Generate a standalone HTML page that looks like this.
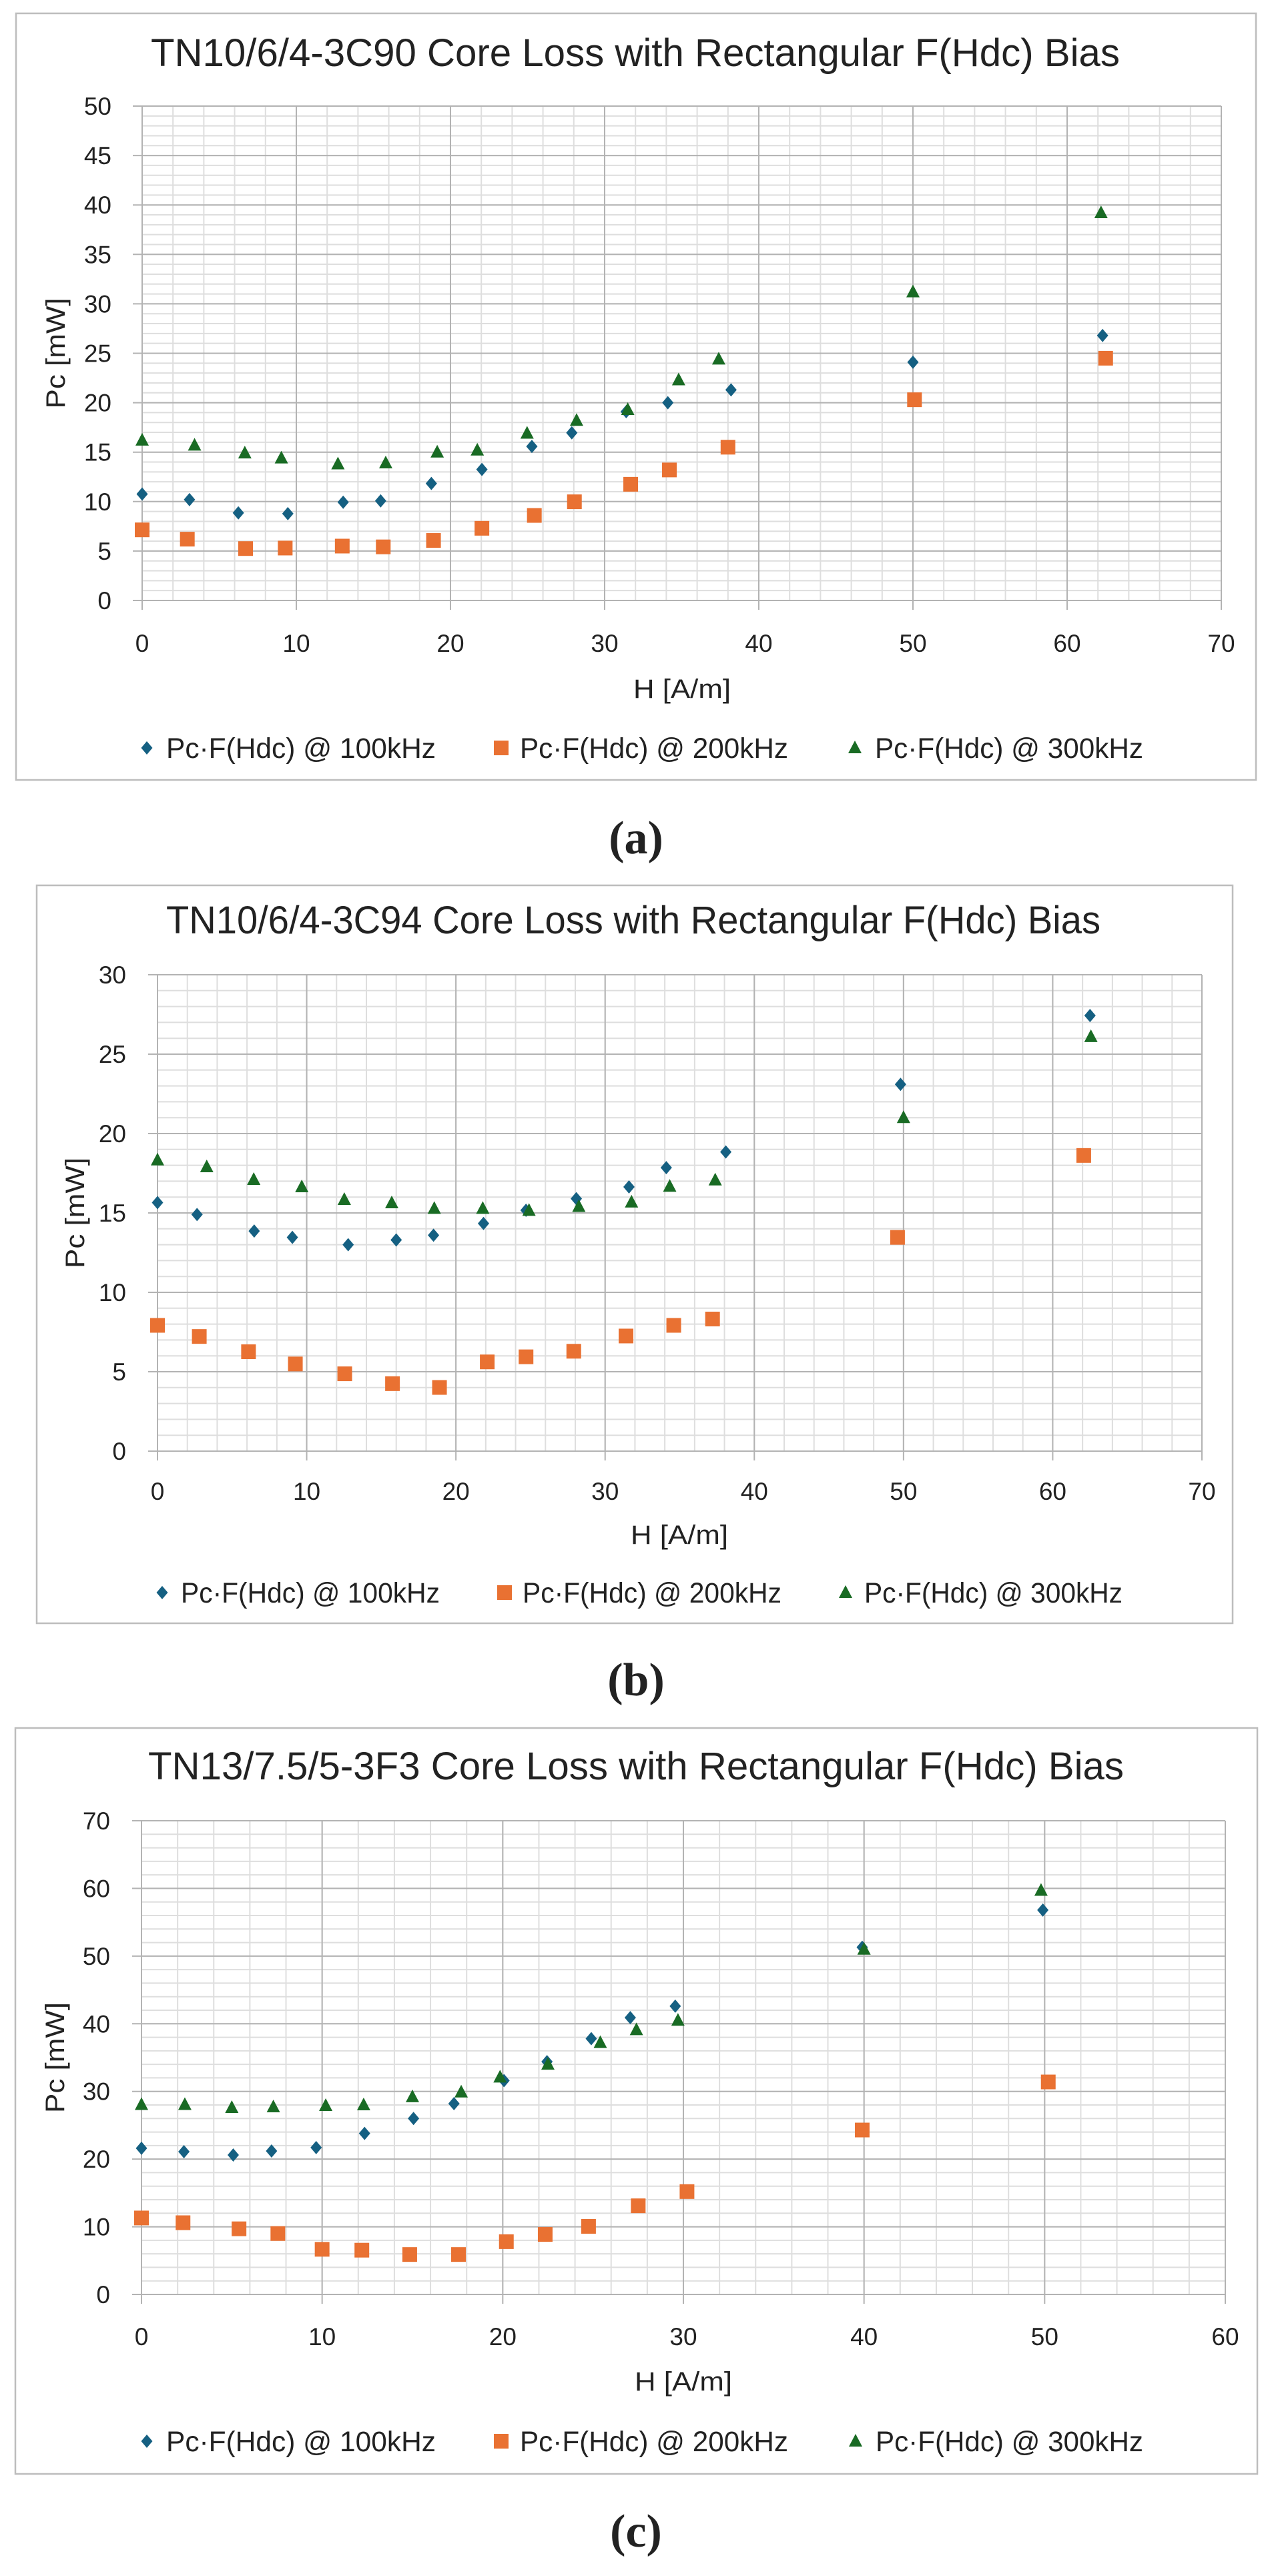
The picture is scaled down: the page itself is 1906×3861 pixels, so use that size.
<!DOCTYPE html>
<html><head><meta charset="utf-8">
<style>
html,body{margin:0;padding:0;background:#fff;}
svg{display:block;}
text{font-family:"Liberation Sans",sans-serif;fill:#222;}
</style></head>
<body>
<svg id="root" width="1906" height="3861" viewBox="0 0 1906 3861" xmlns="http://www.w3.org/2000/svg">
</svg>
<script>
// ---- Chart (a) TN10/6/4-3C90 ----
const aX100 = [0,3.07,6.24,9.45,13.04,15.47,18.76,22.04,25.28,27.87,31.4,34.1,38.2,50,62.3];
const aY100 = [10.76,10.2,8.86,8.78,9.94,10.07,11.83,13.25,15.58,16.95,19.1,20.0,21.3,24.1,26.8];
const aX200 = [0,2.93,6.71,9.28,12.98,15.64,18.9,22.04,25.44,28.04,31.69,34.2,38.0,50.1,62.5];
const aY200 = [7.14,6.2,5.25,5.3,5.5,5.42,6.07,7.3,8.6,9.98,11.75,13.2,15.5,20.3,24.5];
const aX300 = [0,3.4,6.66,9.03,12.7,15.8,19.14,21.74,24.97,28.18,31.5,34.8,37.4,50,62.2];
const aY300 = [16.2,15.7,14.9,14.4,13.8,13.9,15.0,15.2,16.9,18.2,19.3,22.3,24.4,31.2,39.2];
const aXTicks = [0,10,20,30,40,50,60,70];
const aYTicks = [0,5,10,15,20,25,30,35,40,45,50];
// ---- Chart (b) TN10/6/4-3C94 ----
const bX100 = [0,2.65,6.48,9.04,12.78,16.0,18.5,21.85,24.7,28.07,31.6,34.1,38.09,49.8,62.5];
const bY100 = [15.65,14.9,13.86,13.46,13.0,13.3,13.6,14.34,15.17,15.9,16.64,17.85,18.84,23.1,27.43];
const bX200 = [0,2.8,6.1,9.24,12.55,15.75,18.9,22.1,24.7,27.9,31.4,34.6,37.2,49.6,62.08];
const bY200 = [7.92,7.22,6.26,5.49,4.87,4.25,4.01,5.62,5.94,6.29,7.25,7.92,8.32,13.46,18.62];
const bX300 = [0,3.3,6.45,9.67,12.52,15.7,18.55,21.8,24.9,28.24,31.77,34.33,37.38,50,62.56];
const bY300 = [18.33,17.9,17.1,16.64,15.84,15.63,15.28,15.28,15.15,15.4,15.68,16.67,17.07,21.0,26.1];
const bXTicks = [0,10,20,30,40,50,60,70];
const bYTicks = [0,5,10,15,20,25,30];
// ---- Chart (c) TN13/7.5/5-3F3 ----
const cX100 = [0,2.35,5.08,7.2,9.67,12.35,15.06,17.3,20.07,22.45,24.9,27.06,29.55,39.9,49.9];
const cY100 = [21.6,21.1,20.6,21.2,21.7,23.8,26.0,28.2,31.6,34.4,37.8,40.9,42.6,51.3,56.8];
const cX200 = [0,2.3,5.4,7.55,10.0,12.2,14.85,17.55,20.2,22.35,24.75,27.5,30.2,39.9,50.2];
const cY200 = [11.3,10.6,9.7,9.0,6.67,6.54,5.9,5.9,7.8,8.87,10.06,13.1,15.2,24.3,31.4];
const cX300 = [0,2.4,5.0,7.3,10.2,12.3,15.0,17.7,19.85,22.5,25.4,27.4,29.7,40.0,49.8];
const cY300 = [28.05,28.05,27.6,27.7,27.9,28.0,29.2,29.9,32.1,34.0,37.2,39.1,40.5,51.0,59.7];
const cXTicks = [0,10,20,30,40,50,60];
const cYTicks = [0,10,20,30,40,50,60,70];

const NS = "http://www.w3.org/2000/svg";
const root = document.getElementById('root');
function mk(tag, attrs, parent){
  const e = document.createElementNS(NS, tag);
  for (const k in attrs) e.setAttribute(k, attrs[k]);
  (parent||root).appendChild(e);
  return e;
}
const C100 = '#156082', C200 = '#E97132', C300 = '#196B24';

function diamond(g, x, y){
  const e = mk('polygon', {points:`${x},${y-10} ${x+8.5},${y} ${x},${y+10} ${x-8.5},${y}`, fill:C100}, g);
  return e;
}
function square(g, x, y){
  return mk('rect', {x:x-11, y:y-11, width:22, height:22, fill:C200}, g);
}
function triangle(g, x, y){
  return mk('polygon', {points:`${x},${y-11} ${x+10},${y+8} ${x-10},${y+8}`, fill:C300}, g);
}

function chart(cfg){
  const g = mk('g', {});
  
  
  const f = mk('rect', {x:cfg.fx, y:cfg.fy, width:cfg.fw, height:cfg.fh, fill:'#fff', stroke:'#bdbdbd', 'stroke-width':2.5}, g);
  
  
  const xMax = cfg.xTicks[cfg.xTicks.length-1], yMax = cfg.yTicks[cfg.yTicks.length-1];
  const sx = v => cfg.x0 + (cfg.x1 - cfg.x0) * v / xMax;
  const sy = v => cfg.y0 - (cfg.y0 - cfg.y1) * v / yMax;
  // minor grid
  for (let v = 0; v <= yMax + 1e-9; v += cfg.yMinor){
    const l = mk('line', {x1:cfg.x0, x2:cfg.x1, y1:sy(v), y2:sy(v), stroke:'#dedede', 'stroke-width':2}, g);
    
    
  }
  for (let v = 0; v <= xMax + 1e-9; v += cfg.xMinor){
    const l = mk('line', {x1:sx(v), x2:sx(v), y1:cfg.y1, y2:cfg.y0, stroke:'#dedede', 'stroke-width':2}, g);
    
    
  }
  // major grid + tick labels
  cfg.yTicks.forEach(v => {
    const l = mk('line', {x1:cfg.x0-14, x2:cfg.x1, y1:sy(v), y2:sy(v), stroke:'#b3b3b3', 'stroke-width':2}, g);
    
    
    const t = mk('text', {x:cfg.yLabRight, y:sy(v)+13, 'text-anchor':'end', 'font-size':37}, g);
    t.textContent = v;
    
    
  });
  cfg.xTicks.forEach(v => {
    const l = mk('line', {x1:sx(v), x2:sx(v), y1:cfg.y1, y2:cfg.y0+14, stroke:'#b3b3b3', 'stroke-width':2}, g);
    
    
    const t = mk('text', {x:sx(v), y:cfg.xLabY+13, 'text-anchor':'middle', 'font-size':37}, g);
    t.textContent = v;
    
    
  });
  // title
  const tt = mk('text', {x:cfg.tx0, y:cfg.ty, 'font-size':58, textLength:cfg.tx1-cfg.tx0, lengthAdjust:'spacingAndGlyphs'}, g);
  tt.textContent = cfg.title;
  
  
  // axis titles
  const xt = mk('text', {x:cfg.xtX, y:cfg.xtY+14, 'text-anchor':'middle', 'font-size':40, textLength:146, lengthAdjust:'spacingAndGlyphs'}, g);
  xt.textContent = 'H [A/m]';
  
  
  const ym = (cfg.y0 + cfg.y1) / 2;
  const yt = mk('text', {x:0, y:0, 'text-anchor':'middle', 'font-size':40, textLength:166, lengthAdjust:'spacingAndGlyphs', transform:`translate(${cfg.ytX+14},${ym}) rotate(-90)`}, g);
  yt.textContent = 'Pc [mW]';
  
  
  // series
  const series = [
    {xs:cfg.x100, ys:cfg.y100, fn:diamond, name:'series-100khz-point'},
    {xs:cfg.x200, ys:cfg.y200, fn:square, name:'series-200khz-point'},
    {xs:cfg.x300, ys:cfg.y300, fn:triangle, name:'series-300khz-point'}
  ];
  series.forEach(s => {
    s.xs.forEach((xv, i) => {
      const m = s.fn(g, sx(xv), sy(s.ys[i]));
      
      
    });
  });
  // legend
  const labels = ['Pc·F(Hdc) @ 100kHz','Pc·F(Hdc) @ 200kHz','Pc·F(Hdc) @ 300kHz'];
  const fns = [diamond, square, triangle];
  cfg.leg.forEach((L, i) => {
    const m = fns[i](g, L[0], cfg.legY);
    
    
    const t = mk('text', {x:L[1], y:cfg.legY+15, 'font-size':43, textLength:L[2]-L[1], lengthAdjust:'spacingAndGlyphs'}, g);
    t.textContent = labels[i];
    
    
  });
  // caption
  const cap = mk('text', {x:953, y:cfg.capY+22, 'text-anchor':'middle', 'font-size':70, 'font-weight':'bold', style:'font-family:"Liberation Serif",serif'}, root);
  cap.textContent = cfg.caption;
  
  
}

chart({name:'chart-a', title:'TN10/6/4-3C90 Core Loss with Rectangular F(Hdc) Bias', caption:'(a)',
  fx:24, fy:20, fw:1858, fh:1149, x0:213, x1:1830, y0:900, y1:159,
  xTicks:aXTicks, yTicks:aYTicks, xMinor:2, yMinor:1, yLabRight:167, xLabY:964,
  tx0:226, tx1:1678, ty:99, xtX:1022, xtY:1032, ytX:83,
  x100:aX100, y100:aY100, x200:aX200, y200:aY200, x300:aX300, y300:aY300,
  legY:1121, leg:[[220,249,653],[751,779,1181],[1281,1311,1713]], capY:1257});

chart({name:'chart-b', title:'TN10/6/4-3C94 Core Loss with Rectangular F(Hdc) Bias', caption:'(b)',
  fx:55, fy:1327, fw:1792, fh:1106, x0:236, x1:1801, y0:2175, y1:1461,
  xTicks:bXTicks, yTicks:bYTicks, xMinor:2, yMinor:1, yLabRight:189, xLabY:2235,
  tx0:249, tx1:1649, ty:1399, xtX:1018, xtY:2300, ytX:112,
  x100:bX100, y100:bY100, x200:bX200, y200:bY200, x300:bX300, y300:bY300,
  legY:2387, leg:[[243,271,659],[756,783,1171],[1267,1295,1682]], capY:2519});

chart({name:'chart-c', title:'TN13/7.5/5-3F3 Core Loss with Rectangular F(Hdc) Bias', caption:'(c)',
  fx:23, fy:2590, fw:1861, fh:1118, x0:212, x1:1836, y0:3439, y1:2729,
  xTicks:cXTicks, yTicks:cYTicks, xMinor:2, yMinor:2, yLabRight:165, xLabY:3502,
  tx0:222, tx1:1684, ty:2667, xtX:1024, xtY:3569, ytX:82,
  x100:cX100, y100:cY100, x200:cX200, y200:cY200, x300:cX300, y300:cY300,
  legY:3659, leg:[[220,249,653],[751,779,1181],[1282,1312,1713]], capY:3795});
</script>
</body></html>
